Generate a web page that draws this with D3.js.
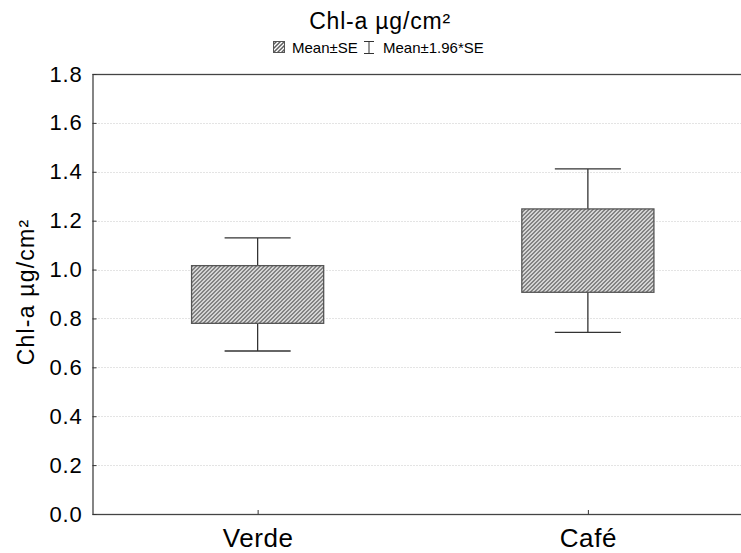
<!DOCTYPE html>
<html>
<head>
<meta charset="utf-8">
<script src="https://cdn.jsdelivr.net/npm/d3@7"></script>
<style>
  body { margin: 0; background: #fff; }
  text { font-family: "Liberation Sans", Arial, sans-serif; }
</style>
</head>
<body>
<div id="chart"></div>
<script>
// data
const categories = ['Verde', 'Café'];
const means = [0.898, 1.0775];
const se = [0.118, 0.1705];
const yTicks = [0, 0.2, 0.4, 0.6, 0.8, 1.0, 1.2, 1.4, 1.6, 1.8];

const width = 741;
const height = 553;
const margin = { top: 74, left: 92.5, bottom: 39, right: -12 };
const plotW = width - margin.left - margin.right;
const plotH = height - margin.top - margin.bottom;

const svg = d3.select('#chart')
  .append('svg')
  .attr('width', width)
  .attr('height', height)
  .attr('viewBox', `0 0 ${width} ${height}`);

// hatch pattern
const defs = svg.append('defs');
const pat = defs.append('pattern')
  .attr('id', 'hatch')
  .attr('patternUnits', 'userSpaceOnUse')
  .attr('width', 4)
  .attr('height', 4);
pat.append('rect').attr('width', 4).attr('height', 4).attr('fill', '#fff');
pat.append('path')
  .attr('d', 'M-1,1 l2,-2 M0,4 l4,-4 M3,5 l2,-2')
  .attr('stroke', '#5e5e5e')
  .attr('stroke-width', 1.5);

const g = svg.append('g')
  .attr('transform', `translate(${margin.left},${margin.top})`);

const x = d3.scalePoint(categories, [0, plotW]).padding(0.5);
const y = d3.scaleLinear([0, 1.8], [plotH, 0]);

// grid
g.append('g')
  .selectAll('line')
  .data(yTicks.filter(d => d > 0 && d < 1.8))
  .enter()
  .append('line')
  .attr('x1', 0)
  .attr('x2', plotW)
  .attr('y1', d => Math.round(y(d)) + 0.5)
  .attr('y2', d => Math.round(y(d)) + 0.5)
  .attr('stroke', '#c8c8c8')
  .attr('stroke-width', 1)
  .attr('stroke-dasharray', '1,2');

// frame
g.append('rect')
  .attr('x', 0.5)
  .attr('y', 0.5)
  .attr('width', plotW)
  .attr('height', plotH)
  .attr('fill', 'none')
  .attr('stroke', '#444')
  .attr('stroke-width', 1.3);

// y axis
const yAxis = d3.axisLeft(y)
  .tickValues(yTicks)
  .tickFormat(d3.format('.1f'))
  .tickSizeInner(-4)
  .tickSizeOuter(0)
  .tickPadding(10);
const ya = g.append('g').call(yAxis);
ya.select('.domain').remove();
ya.selectAll('line').attr('stroke', '#333');
ya.selectAll('text')
  .attr('font-size', 22)
  .attr('letter-spacing', 0.8)
  .attr('fill', '#000');

// x axis
const xAxis = d3.axisBottom(x)
  .tickSizeInner(-4)
  .tickSizeOuter(0)
  .tickPadding(0);
const xa = g.append('g')
  .attr('transform', `translate(0,${plotH})`)
  .call(xAxis);
xa.select('.domain').remove();
xa.selectAll('line').attr('stroke', '#333');
xa.selectAll('text')
  .attr('dy', null)
  .attr('y', 33)
  .attr('font-size', 26)
  .attr('letter-spacing', 0.6)
  .attr('fill', '#000');

// boxes and whiskers
const boxW = plotW * 0.2;
const capW = plotW * 0.1;
const items = categories.map((c, i) => ({ c: c, m: means[i], se: se[i] }));

const grp = g.append('g')
  .selectAll('g')
  .data(items)
  .enter()
  .append('g');

grp.append('line')
  .attr('x1', d => x(d.c))
  .attr('x2', d => x(d.c))
  .attr('y1', d => y(d.m + 1.96 * d.se))
  .attr('y2', d => y(d.m - 1.96 * d.se))
  .attr('stroke', '#333')
  .attr('stroke-width', 1.3);

grp.append('line')
  .attr('x1', d => x(d.c) - capW / 2)
  .attr('x2', d => x(d.c) + capW / 2)
  .attr('y1', d => y(d.m + 1.96 * d.se))
  .attr('y2', d => y(d.m + 1.96 * d.se))
  .attr('stroke', '#333')
  .attr('stroke-width', 1.3);

grp.append('line')
  .attr('x1', d => x(d.c) - capW / 2)
  .attr('x2', d => x(d.c) + capW / 2)
  .attr('y1', d => y(d.m - 1.96 * d.se))
  .attr('y2', d => y(d.m - 1.96 * d.se))
  .attr('stroke', '#333')
  .attr('stroke-width', 1.3);

grp.append('rect')
  .attr('x', d => x(d.c) - boxW / 2)
  .attr('width', boxW)
  .attr('y', d => y(d.m + d.se))
  .attr('height', d => y(d.m - d.se) - y(d.m + d.se))
  .attr('fill', 'url(#hatch)')
  .attr('stroke', '#555')
  .attr('stroke-width', 1.3);

// titles
svg.append('text')
  .attr('x', 380)
  .attr('y', 29)
  .attr('text-anchor', 'middle')
  .attr('font-size', 23)
  .attr('letter-spacing', 0.8)
  .text('Chl-a µg/cm²');

svg.append('text')
  .attr('transform', 'translate(34,292) rotate(-90)')
  .attr('text-anchor', 'middle')
  .attr('font-size', 23)
  .attr('letter-spacing', 1.2)
  .text('Chl-a µg/cm²');

// legend
const leg = svg.append('g').attr('transform', 'translate(273,41)');
leg.append('rect')
  .attr('x', 0.5).attr('y', 0.5)
  .attr('width', 11).attr('height', 11)
  .attr('fill', 'url(#hatch)')
  .attr('stroke', '#555');
leg.append('text')
  .attr('x', 19).attr('y', 11.5)
  .attr('font-size', 15)
  .text('Mean±SE');
const ex = 96;
leg.append('path')
  .attr('d', `M${ex - 5},0.5 h10 M${ex},0.5 v12 M${ex - 5},12.5 h10`)
  .attr('stroke', '#333')
  .attr('fill', 'none');
leg.append('text')
  .attr('x', ex + 14).attr('y', 11.5)
  .attr('font-size', 15)
  .text('Mean±1.96*SE');
</script>
</body>
</html>
